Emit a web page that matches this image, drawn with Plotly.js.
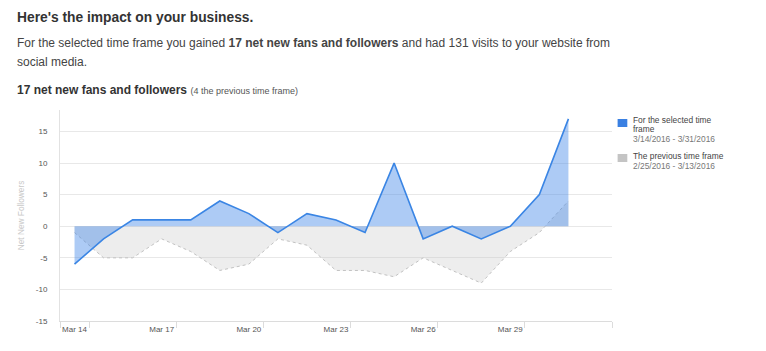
<!DOCTYPE html>
<html>
<head>
<meta charset="utf-8">
<script src="https://cdn.plot.ly/plotly-3.0.1.min.js"></script>
<style>
  html, body { margin: 0; padding: 0; background: #fff; }
  #chart { width: 766px; height: 351px; }
</style>
</head>
<body>
<div id="chart"></div>
<script>
// ---- data ----
const dayLabels = ['Mar 14','Mar 15','Mar 16','Mar 17','Mar 18','Mar 19','Mar 20','Mar 21','Mar 22',
                   'Mar 23','Mar 24','Mar 25','Mar 26','Mar 27','Mar 28','Mar 29','Mar 30','Mar 31'];
const selectedFrame = [-6, -2, 1, 1, 1, 4, 2, -1, 2, 1, -1, 10, -2, 0, -2, 0, 5, 17];
const previousFrame = [-1, -5, -5, -2, -4, -7, -6, -2, -3, -7, -7, -8, -5, -7, -9, -4, -1, 4];
const yTickValues = [-15, -10, -5, 0, 5, 10, 15];
const legendNameLines = [['For the selected time', 'frame'], ['The previous time frame']];
const legendRanges = ['3/14/2016 - 3/31/2016', '2/25/2016 - 3/13/2016'];

// ---- layout helpers (pixel -> paper) ----
const W = 766, H = 351;
const M = {l: 60, r: 154.3, t: 110, b: 30};
const PW = W - M.l - M.r, PH = H - M.t - M.b;
const px = x => (x - M.l) / PW;
const py = y => (H - M.b - y) / PH;

const FONT = '"Liberation Sans", Arial, Helvetica, sans-serif';
const xIdx = dayLabels.map((d, i) => i);
const labelIdx = xIdx.filter(i => i % 3 === 0);
const boundaryTicks = [-0.5].concat(labelIdx.map(i => i + 0.5), [18.5]);

const traces = [
  {
    x: xIdx, y: previousFrame, type: 'scatter', mode: 'lines',
    fill: 'tozeroy', fillcolor: 'rgba(200,200,200,0.33)',
    line: {color: '#c2c2c2', width: 1, dash: 'dot'},
    hoverinfo: 'skip', showlegend: false
  },
  {
    x: xIdx, y: selectedFrame, type: 'scatter', mode: 'lines',
    fill: 'tozeroy', fillcolor: 'rgba(59,132,230,0.42)',
    line: {color: '#3a85e4', width: 1.6},
    hoverinfo: 'skip', showlegend: false
  }
];

const LEG = {size: 8.4, family: FONT};
const annotations = [
  {text: "Here's the impact on your business.", x: px(16), y: py(17.5), xanchor: 'left', yanchor: 'middle',
   font: {size: 13.8, color: '#333', family: FONT, weight: 700}},
  {text: 'For the selected time frame you gained <b>17 net new fans and followers</b> and had 131 visits to your website from',
   x: px(16), y: py(42.5), xanchor: 'left', yanchor: 'middle', font: {size: 12, color: '#444', family: FONT}},
  {text: 'social media.', x: px(16), y: py(62), xanchor: 'left', yanchor: 'middle', font: {size: 12, color: '#444', family: FONT}},
  {text: '<b>17 net new fans and followers</b> <span style="font-size:9px;color:#555">(4 the previous time frame)</span>',
   x: px(16), y: py(89.5), xanchor: 'left', yanchor: 'middle', font: {size: 12, color: '#333', family: FONT}},
  {text: legendNameLines[0][0], x: px(632), y: py(120), font: Object.assign({color: '#444'}, LEG)},
  {text: legendNameLines[0][1], x: px(632), y: py(128.5), font: Object.assign({color: '#444'}, LEG)},
  {text: legendRanges[0], x: px(632), y: py(138.5), font: Object.assign({color: '#777'}, LEG)},
  {text: legendNameLines[1][0], x: px(632), y: py(156), font: Object.assign({color: '#444'}, LEG)},
  {text: legendRanges[1], x: px(632), y: py(166), font: Object.assign({color: '#777'}, LEG)}
].map(a => Object.assign({xref: 'paper', yref: 'paper', showarrow: false, borderpad: 0,
                          xanchor: 'left', yanchor: 'middle', align: 'left'}, a));

const shapes = [
  {type: 'rect', xref: 'paper', yref: 'paper', x0: px(617.3), x1: px(627), y0: py(119), y1: py(127),
   fillcolor: '#3a80e2', line: {width: 0}},
  {type: 'rect', xref: 'paper', yref: 'paper', x0: px(617.3), x1: px(627), y0: py(154), y1: py(162),
   fillcolor: '#c4c4c4', line: {width: 0}}
];

const layout = {
  width: W, height: H,
  margin: M,
  paper_bgcolor: '#fff', plot_bgcolor: '#fff',
  font: {family: FONT, color: '#555'},
  showlegend: false,
  hovermode: false,
  xaxis: {
    range: [-0.5, 18.5], fixedrange: true,
    tickmode: 'array', tickvals: labelIdx, ticktext: labelIdx.map(i => dayLabels[i]),
    ticks: '', showgrid: false, zeroline: false,
    showline: true, linecolor: '#dcdcdc', linewidth: 1,
    tickfont: {size: 8, color: '#555'},
    minor: {tickmode: 'array', tickvals: boundaryTicks, ticks: 'outside', ticklen: 6, tickcolor: '#dcdcdc', tickwidth: 1, showgrid: false}
  },
  yaxis: {
    range: [-15, 18.4], fixedrange: true,
    tickmode: 'array', tickvals: yTickValues, ticktext: yTickValues.map(String),
    ticks: '', ticklabelstandoff: 10,
    showgrid: true, gridcolor: '#e8e8e8', gridwidth: 1,
    zeroline: false,
    showline: true, linecolor: '#e2e2e2', linewidth: 1,
    tickfont: {size: 8, color: '#555'},
    title: {text: 'Net New Followers', standoff: 9, font: {size: 8.3, color: '#c8c8c8'}}
  },
  annotations: annotations,
  shapes: shapes
};

Plotly.newPlot('chart', traces, layout, {displayModeBar: false, staticPlot: true});
</script>
</body>
</html>
